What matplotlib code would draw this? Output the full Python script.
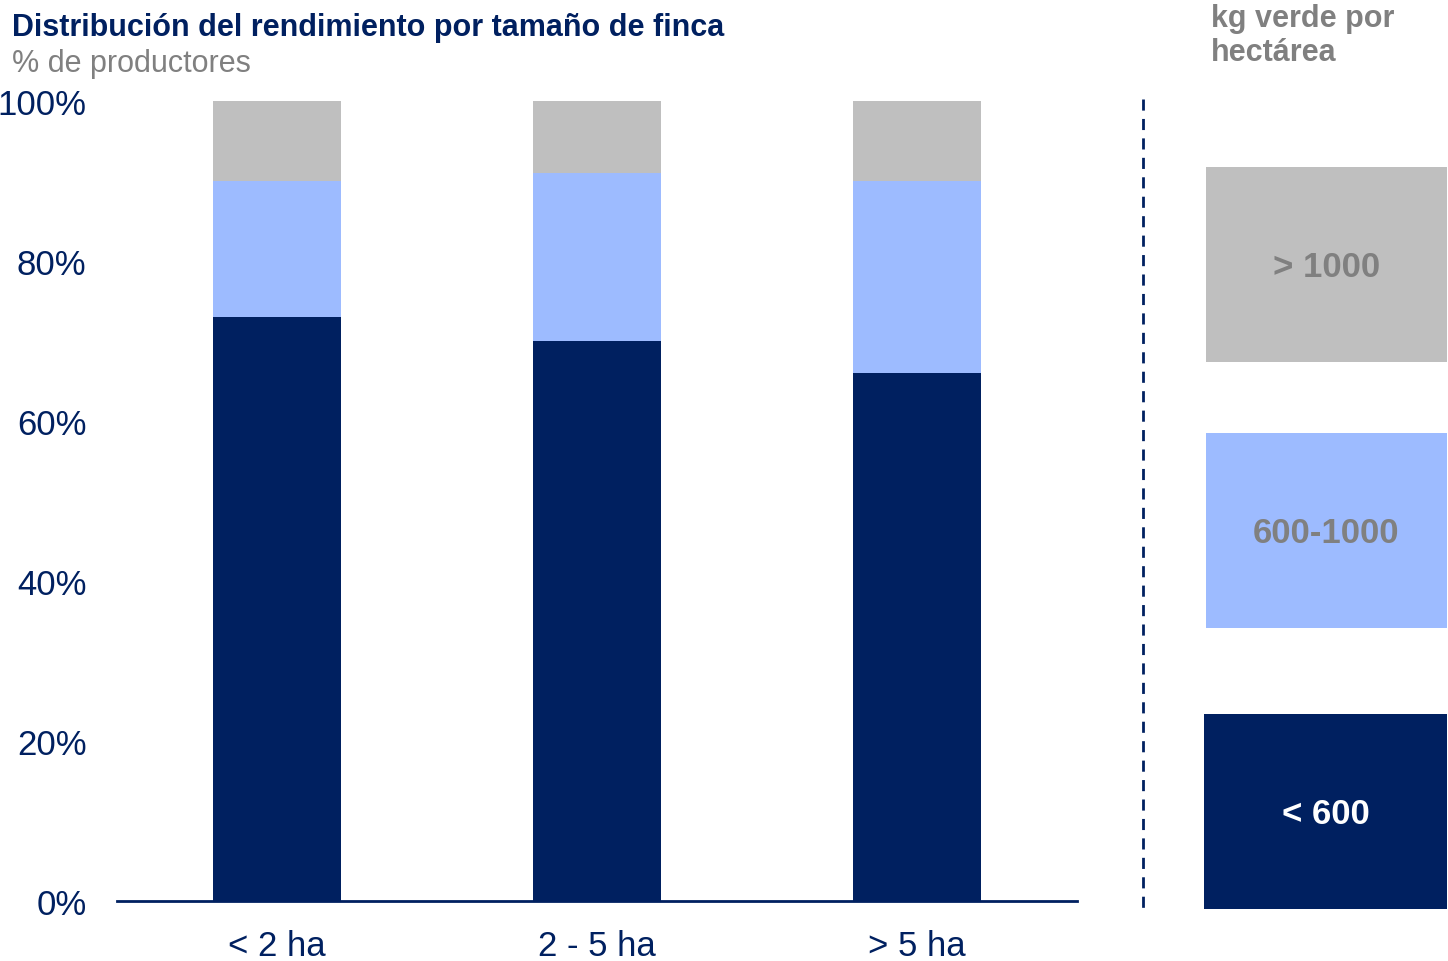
import matplotlib
matplotlib.use("Agg")
import matplotlib.pyplot as plt
from matplotlib.patches import Rectangle
from matplotlib.lines import Line2D

plt.rcParams['font.family'] = ['Liberation Sans', 'DejaVu Sans']

# data (% of producers)
sizes = ['< 2 ha', '2 - 5 ha', '> 5 ha']
low = [73, 70, 66]        # < 600 kg/ha
mid = [17, 21, 24]        # 600-1000 kg/ha
high = [10, 9, 10]        # > 1000 kg/ha
legend_labels = ['> 1000', '600-1000', '< 600']
yticks = [0, 20, 40, 60, 80, 100]

NAVY = '#002060'
LIGHT = '#9dbbff'
GRAY = '#bfbfbf'
TXT_GRAY = '#808080'

W, H = 1448, 962
fig = plt.figure(figsize=(W / 100, H / 100), dpi=100)

# main axes in pixel layout
left, right, top, bottom = 117, 1077, 102, 902
ax = fig.add_axes([left / W, 1 - bottom / H, (right - left) / W, (bottom - top) / H])

x = range(len(sizes))
ax.bar(x, low, width=0.4, color=NAVY)
ax.bar(x, mid, width=0.4, bottom=low, color=LIGHT)
ax.bar(x, high, width=0.4, bottom=[a + b for a, b in zip(low, mid)], color=GRAY)

ax.set_xlim(-0.5, 2.5)
ax.set_ylim(0, 100)
ax.set_yticks(yticks)
ax.set_yticklabels([f'{v}%' for v in yticks], fontsize=25, color=NAVY)
ax.set_xticks(list(x))
ax.set_xticklabels(sizes, fontsize=25, color=NAVY)
ax.tick_params(axis='y', length=0, pad=22)
ax.tick_params(axis='x', length=0, pad=20)
for s in ['top', 'right', 'left']:
    ax.spines[s].set_visible(False)
ax.spines['bottom'].set_color(NAVY)
ax.spines['bottom'].set_linewidth(2)

# titles
fig.text(12 / W, 1 - 28 / H, 'Distribución del rendimiento por tamaño de finca',
         fontsize=22, fontweight='bold', color=NAVY, va='center', ha='left')
fig.text(12 / W, 1 - 64 / H, '% de productores',
         fontsize=22, color=TXT_GRAY, va='center', ha='left')

# dashed separator
fig.add_artist(Line2D([1143 / W, 1143 / W], [1 - 100 / H, 1 - 910 / H],
                      color=NAVY, lw=2, linestyle=(0, (4, 3))))

# legend title
fig.text(1211 / W, 1 - 36 / H, 'kg verde por\nhectárea', fontsize=22,
         fontweight='bold', color=TXT_GRAY, va='center', ha='left', linespacing=1.2)

# legend boxes
boxes = [(1206, 168, 363, GRAY, TXT_GRAY),
         (1206, 434, 629, LIGHT, TXT_GRAY),
         (1204, 715, 910, NAVY, 'white')]
for label, (bx, by0, by1, fc, tc) in zip(legend_labels, boxes):
    fig.add_artist(Rectangle((bx / W, 1 - by1 / H), (1447 - bx) / W, (by1 - by0) / H,
                             facecolor=fc, edgecolor='none'))
    fig.text((bx + 1447) / 2 / W, 1 - ((by0 + by1) / 2 + 2) / H, label, fontsize=25,
             fontweight='bold', color=tc, ha='center', va='center')

fig.savefig('out.png', dpi=100)
